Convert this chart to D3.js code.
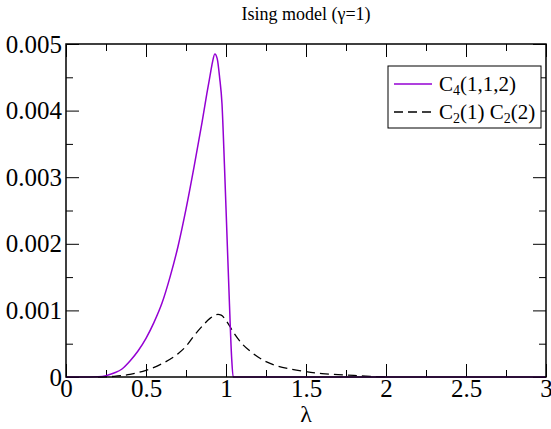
<!DOCTYPE html>
<html>
<head>
<meta charset="utf-8">
<script src="https://cdn.jsdelivr.net/npm/d3@7/dist/d3.min.js"></script>
<style>
  body { margin: 0; background: #fff; }
</style>
</head>
<body>
<svg id="chart"></svg>
<script>
// C4(1,1,2) curve
const lambdaC4 = [0, 0.1, 0.2, 0.25, 0.3, 0.35, 0.4, 0.45, 0.5, 0.55, 0.6, 0.65, 0.7, 0.75, 0.8, 0.85,
    0.88, 0.9, 0.915, 0.93, 0.945, 0.96, 0.975, 0.99, 1.005, 1.02, 1.035, 1.045, 1.1, 1.5, 2, 2.5, 3];
const c4Values = [0, 0, 0.000005, 0.00002, 0.00006, 0.00012, 0.00024, 0.00039, 0.00058, 0.00082, 0.00111,
    0.0015, 0.00196, 0.00252, 0.00315, 0.00382, 0.00425, 0.00452, 0.00472, 0.00485, 0.00478, 0.0045,
    0.0041, 0.0032, 0.0022, 0.0012, 0.0003, 0, 0, 0, 0, 0, 0];

// C2(1) C2(2) curve
const lambdaC2 = [0.2, 0.3, 0.4, 0.5, 0.6, 0.7, 0.75, 0.8, 0.85, 0.9, 0.95, 0.97, 1.0, 1.05, 1.1, 1.15,
    1.2, 1.25, 1.3, 1.4, 1.5, 1.6, 1.75, 1.9, 2.0];
const c2Values = [0, 0.00001, 0.00004, 0.0001, 0.0002, 0.00035, 0.00046, 0.00062, 0.00076, 0.00088,
    0.00094, 0.00093, 0.00085, 0.00066, 0.0005, 0.00039, 0.0003, 0.00023, 0.00018, 0.00012, 0.00008,
    0.00005, 0.00003, 0.00001, 0];

const xMajor = [0, 0.5, 1, 1.5, 2, 2.5, 3];
const xMinor = [0.25, 0.75, 1.25, 1.75, 2.25, 2.75];
const yMajor = [0, 0.001, 0.002, 0.003, 0.004, 0.005];
const yMinor = [0.0005, 0.0015, 0.0025, 0.0035, 0.0045];
const yLabels = ['0', '0.001', '0.002', '0.003', '0.004', '0.005'];

const width = 551, height = 429;
const margin = {left: 66, right: 5, top: 44, bottom: 52};
const purple = '#9400d3';
const serif = '"Liberation Serif"';

let svg = d3.select('#chart').attr('width', width).attr('height', height)
    .style('font-family', serif);

let xScale = d3.scaleLinear().domain([0, 3]).range([margin.left, width - margin.right]);
let yScale = d3.scaleLinear().domain([0, 0.005]).range([height - margin.bottom, margin.top]);

// title
svg.append('text')
    .attr('x', (xScale(0) + xScale(3)) / 2).attr('y', 20)
    .attr('text-anchor', 'middle').style('font-family', serif).style('font-size', '18px')
    .text('Ising model (γ=1)');

function styleAxis(g) {
    g.attr('font-family', null).attr('font-size', null);
    g.select('.domain').remove();
    g.selectAll('line').attr('stroke', '#000').attr('stroke-width', 1);
    g.selectAll('text').style('font-size', '25px').style('font-family', serif).attr('fill', '#000');
}

// bottom / top
svg.append('g')
    .attr('transform', `translate(0, ${yScale(0)})`)
    .call(d3.axisBottom(xScale).tickValues(xMajor).tickSize(-13).tickPadding(2).tickFormat(d3.format('')))
    .call(styleAxis);
svg.append('g')
    .attr('transform', `translate(0, ${yScale(0)})`)
    .call(d3.axisBottom(xScale).tickValues(xMinor).tickSize(-7).tickFormat(''))
    .call(styleAxis);
svg.append('g')
    .attr('transform', `translate(0, ${yScale(0.005)})`)
    .call(d3.axisTop(xScale).tickValues(xMajor).tickSize(-13).tickFormat(''))
    .call(styleAxis);
svg.append('g')
    .attr('transform', `translate(0, ${yScale(0.005)})`)
    .call(d3.axisTop(xScale).tickValues(xMinor).tickSize(-7).tickFormat(''))
    .call(styleAxis);

// left / right
svg.append('g')
    .attr('transform', `translate(${xScale(0)}, 0)`)
    .call(d3.axisLeft(yScale).tickValues(yMajor).tickSize(-13).tickPadding(4)
        .tickFormat((d, i) => yLabels[i]))
    .call(styleAxis);
svg.append('g')
    .attr('transform', `translate(${xScale(0)}, 0)`)
    .call(d3.axisLeft(yScale).tickValues(yMinor).tickSize(-7).tickFormat(''))
    .call(styleAxis);
svg.append('g')
    .attr('transform', `translate(${xScale(3)}, 0)`)
    .call(d3.axisRight(yScale).tickValues(yMajor).tickSize(-13).tickFormat(''))
    .call(styleAxis);
svg.append('g')
    .attr('transform', `translate(${xScale(3)}, 0)`)
    .call(d3.axisRight(yScale).tickValues(yMinor).tickSize(-7).tickFormat(''))
    .call(styleAxis);

// curves
let lineGen = d3.line()
    .x(d => xScale(d[0]))
    .y(d => yScale(d[1]))
    .curve(d3.curveMonotoneX);

svg.append('path')
    .attr('d', lineGen(d3.zip(lambdaC2, c2Values)))
    .attr('fill', 'none').attr('stroke', '#000').attr('stroke-width', 1.3)
    .attr('stroke-dasharray', '9,5');
svg.append('path')
    .attr('d', lineGen(d3.zip(lambdaC4, c4Values)))
    .attr('fill', 'none').attr('stroke', purple).attr('stroke-width', 1.5);

// frame
svg.append('rect')
    .attr('x', xScale(0)).attr('y', yScale(0.005))
    .attr('width', xScale(3) - xScale(0)).attr('height', yScale(0) - yScale(0.005))
    .attr('fill', 'none').attr('stroke', '#000').attr('stroke-width', 1.5);

// x label
svg.append('text')
    .attr('x', (xScale(0) + xScale(3)) / 2).attr('y', 422)
    .attr('text-anchor', 'middle').style('font-family', serif).style('font-size', '24px')
    .text('λ');

// legend
let legend = svg.append('g');
legend.append('rect')
    .attr('x', 388).attr('y', 66).attr('width', 153).attr('height', 62)
    .attr('fill', '#fff').attr('stroke', '#000').attr('stroke-width', 1);

function legendLabel(y, parts) {
    let t = legend.append('text').attr('x', 439).attr('y', y)
        .style('font-family', serif).style('font-size', '21px');
    parts.forEach(p => {
        let ts = t.append('tspan').text(p.text);
        if (p.sub) ts.attr('baseline-shift', '-30%').style('font-size', '14px');
    });
}
legend.append('line').attr('x1', 394).attr('x2', 432).attr('y1', 84).attr('y2', 84)
    .attr('stroke', purple).attr('stroke-width', 1.5);
legendLabel(91, [{text: 'C'}, {text: '4', sub: true}, {text: '(1,1,2)'}]);
legend.append('line').attr('x1', 394).attr('x2', 432).attr('y1', 112).attr('y2', 112)
    .attr('stroke', '#000').attr('stroke-width', 1.3).attr('stroke-dasharray', '9,5');
legendLabel(119, [{text: 'C'}, {text: '2', sub: true}, {text: '(1) C'}, {text: '2', sub: true}, {text: '(2)'}]);
</script>
</body>
</html>
